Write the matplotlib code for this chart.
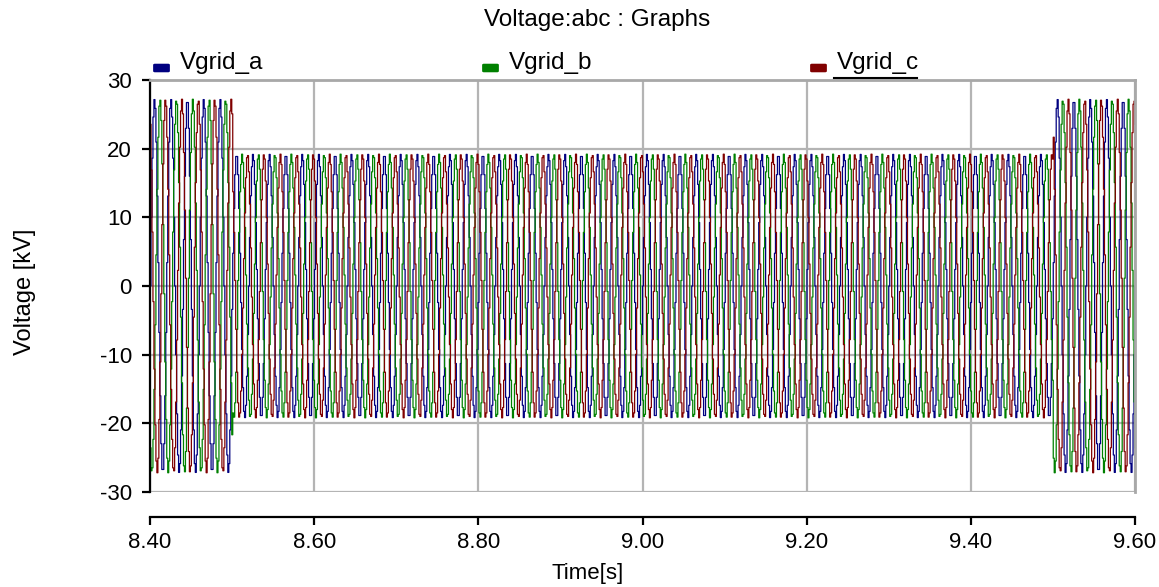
import numpy as np
import matplotlib
matplotlib.use("Agg")
import matplotlib.pyplot as plt
from matplotlib.patches import FancyBboxPatch
from matplotlib.lines import Line2D

# --- data ---
phase_names = ["Vgrid_a", "Vgrid_b", "Vgrid_c"]
phase_colors = ["#000080", "#008000", "#800000"]
phase_shift_deg = [0, -120, 120]
grid_freq_hz = 50.0
plot_step_s = 1.2e-3          # output step of the recorder (stair look)
segment_edges_s = [8.40, 8.50, 9.50, 9.60]
segment_peak_kv = [27.2, 19.2, 27.2]
x_ticks = [8.40, 8.60, 8.80, 9.00, 9.20, 9.40, 9.60]
y_ticks = [-30, -20, -10, 0, 10, 20, 30]

plt.rcParams['font.family'] = ['Liberation Sans', 'DejaVu Sans']
plt.rcParams['axes.unicode_minus'] = False

t = np.arange(segment_edges_s[0], segment_edges_s[-1] + plot_step_s, plot_step_s)
peak = np.full_like(t, segment_peak_kv[-1])
for i in range(len(segment_peak_kv)):
    mask = (t >= segment_edges_s[i]) & (t < segment_edges_s[i + 1])
    peak[mask] = segment_peak_kv[i]

W, H = 1159, 587
fig = plt.figure(figsize=(W / 100, H / 100), dpi=100)
ax = fig.add_axes([150 / W, 1 - 492 / H, 985 / W, 412 / H])

for name, col, ph in zip(phase_names, phase_colors, phase_shift_deg):
    v = peak * np.sin(2 * np.pi * grid_freq_hz * t + np.deg2rad(ph))
    ax.plot(t, v, color=col, lw=0.9, drawstyle="steps-post", label=name)

ax.set_xlim(8.40, 9.60)
ax.set_ylim(-30, 30)
ax.set_xticks(x_ticks)
ax.set_xticklabels([f"{x:.2f}" for x in x_ticks])
ax.set_yticks(y_ticks)
ax.grid(True, color="#b4b4b4", lw=1.6)
ax.set_axisbelow(True)

for side in ("top", "right"):
    ax.spines[side].set_color("#a8a8a8")
    ax.spines[side].set_linewidth(2)
ax.spines["left"].set_color("black")
ax.spines["left"].set_linewidth(1.6)
ax.spines["bottom"].set_position(("outward", 18))
ax.spines["bottom"].set_color("black")
ax.spines["bottom"].set_linewidth(1.6)

ax.tick_params(axis="both", direction="out", length=6, width=1.6, labelsize=16, colors="black")
ax.tick_params(axis="y", pad=7)
ax.tick_params(axis="x", pad=5)

fig.text(588 / W, 1 - 573 / H, "Time[s]", fontsize=16, ha="center", va="center")
fig.text(25 / W, 1 - 292 / H, "Voltage [kV]", fontsize=17, rotation=90,
         ha="center", va="center")
fig.text(597 / W, 1 - 20 / H, "Voltage:abc : Graphs", fontsize=17.5,
         ha="center", va="center")

# legend row across the top
legend_x = [155, 484, 812]
for name, col, lx in zip(phase_names, phase_colors, legend_x):
    sq = FancyBboxPatch((lx / W, 1 - 71 / H), 13 / W, 6 / H,
                        boxstyle="round,pad=0.001", transform=fig.transFigure,
                        facecolor=col, edgecolor=col)
    fig.patches.append(sq)
    fig.text((lx + 25) / W, 1 - 63 / H, name, fontsize=17.5,
             ha="left", va="center")
fig.lines.append(Line2D([834 / W, 917 / W], [1 - 78 / H, 1 - 78 / H],
                        transform=fig.transFigure, color="black", lw=1.5))

fig.savefig("out.png", dpi=100)
